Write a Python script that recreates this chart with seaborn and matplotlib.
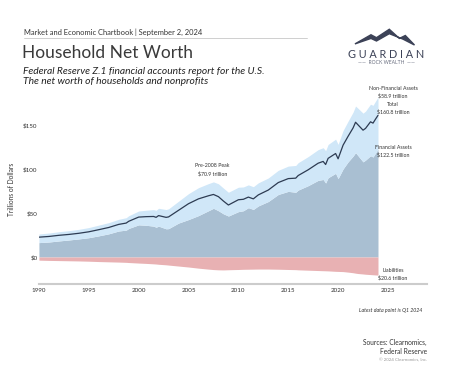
"""
household net worth chart, rebuilt from the chartbook page
"""

import numpy as np
import pandas as pd
import matplotlib.pyplot as plt
import seaborn as sns
from matplotlib.patches import Polygon

# quarter dates as decimal years (Q1 2024 = 2024.0)
dates = [1990.0, 1991.0, 1992.0, 1993.0, 1994.0, 1995.0, 1996.0, 1997.0, 1998.0,
         1998.75, 1999.0, 2000.0, 2000.75, 2001.5, 2001.75, 2002.0, 2002.75, 2003.0,
         2004.0, 2005.0, 2006.0, 2007.0, 2007.5, 2008.0, 2008.5, 2009.0, 2010.0,
         2010.5, 2011.0, 2011.5, 2012.0, 2013.0, 2014.0, 2015.0, 2015.75, 2016.0,
         2017.0, 2018.0, 2018.5, 2018.75, 2019.0, 2019.75, 2020.0, 2020.5, 2021.0,
         2021.5, 2021.75, 2022.0, 2022.5, 2022.75, 2023.25, 2023.5, 2023.75, 2024.0]

# trillions of dollars
financial = [16.3, 17.0, 18.2, 19.3, 20.5, 21.9, 24.0, 26.3, 29.5,
             30.5, 32.4, 36.5, 36.0, 35.0, 33.8, 35.0, 32.0, 32.2,
             38.5, 42.5, 47.0, 52.5, 55.3, 52.5, 49.0, 46.5, 51.5,
             52.5, 56.0, 54.0, 58.0, 63.0, 71.0, 74.5, 73.5, 76.0,
             81.0, 87.0, 88.0, 84.0, 90.0, 95.0, 89.0, 100.0, 108.0,
             114.5, 118.5, 115.0, 108.0, 110.0, 115.0, 113.5, 118.0, 122.5]

nonfinancial = [9.8, 10.2, 10.5, 10.6, 10.9, 11.5, 12.2, 12.7, 13.3,
                14.1, 14.4, 15.7, 17.1, 18.8, 19.2, 20.3, 21.9, 22.5,
                24.8, 29.4, 31.7, 30.8, 30.0, 30.6, 29.2, 27.0, 27.7,
                27.0, 25.9, 25.8, 26.2, 26.7, 27.4, 28.7, 30.4, 31.1,
                33.0, 34.9, 36.1, 36.7, 37.8, 38.8, 38.9, 43.6, 46.2,
                49.9, 52.9, 53.8, 55.3, 55.6, 58.5, 58.7, 58.9, 58.9]

liabilities = [3.6, 3.9, 4.1, 4.3, 4.5, 4.8, 5.2, 5.5, 5.8,
               6.1, 6.3, 6.9, 7.3, 7.8, 8.0, 8.3, 8.9, 9.2,
               10.3, 11.4, 12.7, 13.8, 14.3, 14.6, 14.7, 14.5, 14.2,
               14.0, 13.9, 13.8, 13.7, 13.7, 13.9, 14.2, 14.4, 14.6,
               15.0, 15.4, 15.6, 15.7, 15.8, 16.3, 16.4, 16.6, 17.2,
               17.9, 18.4, 18.8, 19.3, 19.6, 20.0, 20.2, 20.4, 20.6]

year_ticks = [1990, 1995, 2000, 2005, 2010, 2015, 2020, 2025]
value_ticks = [0, 50, 100, 150]

FIN_COLOR = '#a9bfd2'
NONFIN_COLOR = '#d0e7f8'
LIAB_COLOR = '#e8b1b3'
LINE_COLOR = '#2d3b52'
TEXT_COLOR = '#333333'


def build_frame():
    df = pd.DataFrame({
        'date': dates,
        'financial': financial,
        'nonfinancial': nonfinancial,
        'liabilities': liabilities,
    })
    df['assets'] = df['financial'] + df['nonfinancial']
    df['total'] = df['assets'] - df['liabilities']
    return df


def draw_logo(fig):
    # little mountain mark + wordmark, top right
    mtn = Polygon([[0.775, 0.880], [0.810, 0.905], [0.822, 0.897], [0.850, 0.920],
                   [0.872, 0.895], [0.885, 0.903], [0.905, 0.877], [0.880, 0.893],
                   [0.850, 0.908], [0.822, 0.888], [0.810, 0.895]],
                  closed=True, transform=fig.transFigure, color='#3c4257')
    fig.patches.append(mtn)
    fig.text(0.843, 0.851, 'G U A R D I A N', ha='center', va='center',
             fontsize=7.8, color='#3c4257', family='Lato')
    fig.text(0.843, 0.829, '——  ROCK WEALTH  ——', ha='center', va='center',
             fontsize=3.6, color='#6a6f80', family='Lato')


def main():
    sns.set_style('white')
    plt.rcParams['font.family'] = ['Lato', 'DejaVu Sans']

    df = build_frame()

    fig = plt.figure(figsize=(4.58, 3.66), dpi=100)
    ax = fig.add_axes([0.085, 0.224, 0.847, 0.519])

    ax.fill_between(df['date'], 0, df['financial'], color=FIN_COLOR, lw=0)
    ax.fill_between(df['date'], df['financial'], df['assets'], color=NONFIN_COLOR, lw=0)
    ax.fill_between(df['date'], 0, -df['liabilities'], color=LIAB_COLOR, lw=0)
    sns.lineplot(data=df, x='date', y='total', ax=ax, color=LINE_COLOR, lw=0.9)

    ax.set_xlim(1990, 2028.9)
    ax.set_ylim(-30.7, 185)
    ax.set_xticks(year_ticks)
    ax.set_xticklabels([str(y) for y in year_ticks])
    ax.set_yticks(value_ticks)
    ax.set_yticklabels([f'${v}' for v in value_ticks])
    ax.tick_params(axis='both', labelsize=4.5, colors=TEXT_COLOR, length=0, pad=3)
    ax.tick_params(axis='y', pad=1)
    ax.set_xlabel('')
    ax.set_ylabel('Trillions of Dollars', fontsize=4.8, color=TEXT_COLOR, labelpad=6)

    for side in ['top', 'right', 'left']:
        ax.spines[side].set_visible(False)
    ax.spines['bottom'].set_color('#cccccc')
    ax.spines['bottom'].set_linewidth(1.5)

    # end-of-series labels
    lab = dict(ha='center', va='center', fontsize=3.8, color=TEXT_COLOR, linespacing=1.5)
    ax.text(2025.5, 187, 'Non-Financial Assets\n$58.9 trillion', **lab)
    ax.text(2025.5, 169, 'Total\n$160.8 trillion', **lab)
    ax.text(2025.5, 120, 'Financial Assets\n$122.5 trillion', **lab)
    ax.text(2025.5, -20, 'Liabilities\n$20.6 trillion', **lab)
    ax.text(2007.4, 99, 'Pre-2008 Peak\n$70.9 trillion', **lab)

    # header
    fig.text(0.052, 0.912, 'Market and Economic Chartbook | September 2, 2024',
             fontsize=5.4, color=TEXT_COLOR, va='center')
    fig.add_artist(plt.Line2D([0.052, 0.670], [0.895, 0.895],
                              transform=fig.transFigure, color='#c8c8c8', lw=0.6))
    fig.text(0.048, 0.856, 'Household Net Worth', fontsize=12.5, color='#3a3a3a',
             va='center')
    fig.text(0.050, 0.805, 'Federal Reserve Z.1 financial accounts report for the U.S.',
             fontsize=7.4, style='italic', color='#222222', va='center')
    fig.text(0.050, 0.776, 'The net worth of households and nonprofits',
             fontsize=7.4, style='italic', color='#222222', va='center')
    draw_logo(fig)

    # footer
    fig.text(0.921, 0.153, 'Latest data point is Q1 2024', ha='right', va='center',
             fontsize=3.8, style='italic', color=TEXT_COLOR)
    fig.text(0.932, 0.052, 'Sources: Clearnomics,\nFederal Reserve', ha='right',
             va='center', fontsize=4.8, color=TEXT_COLOR, linespacing=1.3)
    fig.text(0.932, 0.014, '© 2024 Clearnomics, Inc.', ha='right', va='center',
             fontsize=3.2, color='#999999')

    fig.savefig('out.png', dpi=100, facecolor='white')


if __name__ == '__main__':
    main()
